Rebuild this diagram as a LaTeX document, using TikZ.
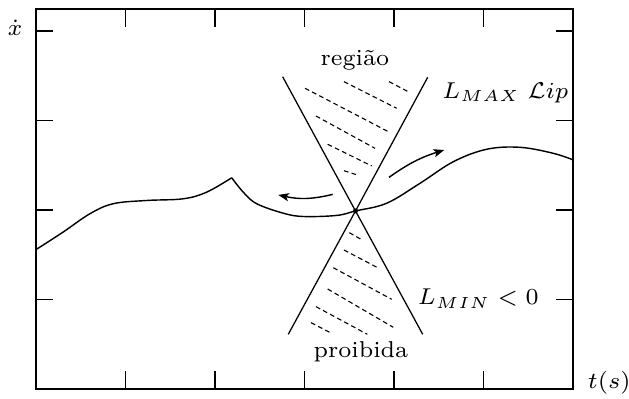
\RequirePackage{fix-cm}
\documentclass[tikz,border=0pt]{standalone}
\usetikzlibrary{arrows.meta}
\begin{document}
\begin{tikzpicture}[x=1cm,y=1cm,
  font=\fontsize{7.3}{8.8}\selectfont,
  frame/.style={line width=0.4pt},
  tick/.style={line width=0.4pt},
  cone/.style={line width=0.4pt},
  hatch/.style={line width=0.35pt,dash pattern=on 1.5pt off 1.05pt},
  curve/.style={line width=0.45pt},
  flow/.style={line width=0.45pt,-{Stealth[length=3.4pt,width=2.6pt,inset=0.8pt]}},
  lbl/.style={inner sep=0pt}]
\useasboundingbox (-0.402,-0.112) rectangle (6.626,4.346);
% frame
\draw[frame] (0,0) rectangle (6,4.246);
\foreach \y in {1,2,3,4}{
  \draw[tick] (0,\y) -- (0.185,\y);
  \draw[tick] (6,\y) -- (5.815,\y);
}
\foreach \x in {1,2,3,4,5}{
  \draw[tick] (\x,0) -- (\x,0.2);
  \draw[tick] (\x,4.246) -- (\x,4.046);
}
% axis labels
\node[lbl,anchor=base] (xd) at (-0.235,3.944) {$\dot{x}$};
\node[lbl,anchor=base west] (ts) at (6.160,0) {$t(s)$};
% singular point
\coordinate (p) at (3.570,1.989);
% cone lines
\draw[cone] (2.756,3.489) -- (p) -- (4.321,0.611);
\draw[cone] (4.377,3.483) -- (p) -- (2.819,0.611);
% hatching upper
\draw[hatch] (3.944,3.434) -- (4.179,3.311);
\draw[hatch] (3.441,3.434) -- (4.030,3.136);
\draw[hatch] (3.006,3.360) -- (3.937,2.875);
\draw[hatch] (3.128,3.050) -- (3.788,2.689);
\draw[hatch] (3.259,2.734) -- (3.751,2.492);
\draw[hatch] (3.441,2.439) -- (3.590,2.391);
% hatching lower
\draw[hatch] (3.501,1.746) -- (3.631,1.673);
\draw[hatch] (3.441,1.553) -- (3.818,1.355);
\draw[hatch] (3.322,1.355) -- (3.974,1.002);
\draw[hatch] (3.259,1.117) -- (3.992,0.689);
\draw[hatch] (3.128,0.920) -- (3.702,0.611);
\draw[hatch] (3.073,0.741) -- (3.304,0.621);
% trajectory
\draw[curve] plot[smooth,tension=0.6] coordinates {(0,1.557) (0.305,1.754) (0.603,1.958) (0.864,2.070) (1.237,2.106) (1.646,2.125) (1.907,2.199) (2.187,2.360)};
\draw[curve] plot[smooth,tension=0.6] coordinates {(2.187,2.360) (2.316,2.199) (2.466,2.070) (2.763,1.964) (2.986,1.927) (3.360,1.939) (3.570,1.989) (3.918,2.075) (4.291,2.298) (4.663,2.539) (5.035,2.678) (5.408,2.700) (5.780,2.633) (6.003,2.559)};
\fill (p) circle (0.028);
% flow arrows
\coordinate (a1s) at (3.315,2.174);
\coordinate (a1e) at (2.707,2.168);
\coordinate (a2s) at (3.944,2.364);
\coordinate (a2e) at (4.562,2.670);
\draw[flow] (a1s) to[bend left=13] (a1e);
\draw[flow] (a2s) to[bend left=9] (a2e);
% labels
\node[lbl,anchor=base] (reg) at (3.564,3.609) {região};
\node[lbl,anchor=base] (pro) at (3.631,0.346) {proibida};
\node[lbl,anchor=base west] (lmax) at (4.533,3.248) {$L_{MAX}\;\mathcal{L}ip$};
\node[lbl,anchor=base west] (lmin) at (4.260,0.939) {$L_{MIN}<0$};
\end{tikzpicture}
\end{document}
